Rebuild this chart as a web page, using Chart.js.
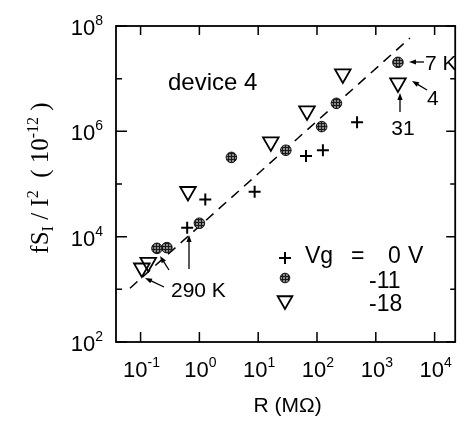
<!DOCTYPE html>
<html>
<head>
<meta charset="utf-8">
<script src="https://cdn.jsdelivr.net/npm/chart.js@4.4.1/dist/chart.umd.min.js"></script>
<style>
  html, body { margin: 0; padding: 0; background: #fff; }
  canvas { display: block; }
</style>
</head>
<body>
<canvas id="chart" width="466" height="421"></canvas>
<script>
// R (MOhm) vs f*S_I/I^2 (1e-12)
const vg0R = [0.62, 1.26, 8.7, 65, 126, 480];
const vg0Noise = [14800, 51000, 71000, 340000, 437000, 1.48e6];
const vg11R = [0.19, 0.28, 1.0, 3.5, 29.5, 120, 214, 2380];
const vg11Noise = [6000, 6200, 18000, 320000, 437000, 1.23e6, 3.4e6, 2.04e7];
const vg18R = [0.105, 0.135, 0.64, 16.4, 67.6, 275, 2380];
const vg18Noise = [2540, 3240, 72000, 630000, 2.45e6, 1.23e7, 8.3e6];
const fitR = [0.066, 3800];
const fitNoise = [1050, 5.9e7];

const xTickExps = [-1, 0, 1, 2, 3, 4];
const yTickExps = [2, 4, 6, 8];
const yMinorExps = [3, 5, 7];
const legendLabels = ['0', '-11', '-18'];

const SANS = '"Liberation Sans", Arial, sans-serif';
const SERIF = '"Liberation Serif", "Times New Roman", serif';

function toPoints(xs, ys) {
    return xs.map((x, i) => ({ x: x, y: ys[i] }));
}

// dark gray cross-hatched fill for the Vg = -11 dots
function hatchPattern() {
    const c = document.createElement('canvas');
    c.width = 3; c.height = 3;
    const g = c.getContext('2d');
    g.fillStyle = '#8a8a8a';
    g.fillRect(0, 0, 3, 3);
    g.fillStyle = '#1a1a1a';
    g.fillRect(0, 0, 3, 1);
    g.fillRect(0, 0, 1, 3);
    return g.createPattern(c, 'repeat');
}

function drawPow(ctx, exp, x, baseline, align, big, small, lift) {
    ctx.font = big + 'px ' + SANS;
    const w1 = ctx.measureText('10').width;
    ctx.font = small + 'px ' + SANS;
    const w2 = ctx.measureText(String(exp)).width;
    const total = w1 + w2;
    let left = x;
    if (align === 'center') left = x - total / 2;
    if (align === 'right') left = x - total;
    ctx.textAlign = 'left';
    ctx.textBaseline = 'alphabetic';
    ctx.font = big + 'px ' + SANS;
    ctx.fillText('10', left, baseline);
    ctx.font = small + 'px ' + SANS;
    ctx.fillText(String(exp), left + w1, baseline - lift);
}

function arrow(ctx, x1, y1, x2, y2) {
    const a = Math.atan2(y2 - y1, x2 - x1);
    const len = 7, half = 2.6;
    ctx.beginPath();
    ctx.moveTo(x1, y1);
    ctx.lineTo(x2 - Math.cos(a) * len * 0.8, y2 - Math.sin(a) * len * 0.8);
    ctx.stroke();
    ctx.beginPath();
    ctx.moveTo(x2, y2);
    ctx.lineTo(x2 - Math.cos(a) * len - Math.sin(a) * half, y2 - Math.sin(a) * len + Math.cos(a) * half);
    ctx.lineTo(x2 - Math.cos(a) * len + Math.sin(a) * half, y2 - Math.sin(a) * len - Math.cos(a) * half);
    ctx.closePath();
    ctx.fill();
}

const frameAndText = {
    id: 'frameAndText',
    beforeDatasetsDraw(chart) {
        const { ctx, chartArea: a, scales: { x, y } } = chart;
        ctx.save();
        ctx.strokeStyle = '#000';
        ctx.lineWidth = 1.8;
        ctx.strokeRect(a.left, a.top, a.right - a.left, a.bottom - a.top);

        ctx.lineWidth = 1.5;
        ctx.beginPath();
        xTickExps.forEach(e => {
            const px = x.getPixelForValue(Math.pow(10, e));
            ctx.moveTo(px, a.bottom); ctx.lineTo(px, a.bottom - 10);
            ctx.moveTo(px, a.top); ctx.lineTo(px, a.top + 9);
        });
        yTickExps.forEach(e => {
            const py = y.getPixelForValue(Math.pow(10, e));
            ctx.moveTo(a.left, py); ctx.lineTo(a.left + 11, py);
            ctx.moveTo(a.right, py); ctx.lineTo(a.right - 9, py);
        });
        yMinorExps.forEach(e => {
            const py = y.getPixelForValue(Math.pow(10, e));
            ctx.moveTo(a.left, py); ctx.lineTo(a.left + 6, py);
            ctx.moveTo(a.right, py); ctx.lineTo(a.right - 5, py);
        });
        ctx.stroke();
        ctx.restore();
    },
    afterDraw(chart) {
        const { ctx, chartArea: a, scales: { x, y } } = chart;
        ctx.save();
        ctx.fillStyle = '#000';
        ctx.strokeStyle = '#000';

        // tick labels
        xTickExps.forEach(e => {
            const px = x.getPixelForValue(Math.pow(10, e));
            drawPow(ctx, e, px + 1, a.bottom + 35, 'center', 22, 14, 10);
        });
        yTickExps.forEach(e => {
            const py = y.getPixelForValue(Math.pow(10, e));
            drawPow(ctx, e, a.left - 13, py + 9, 'right', 22, 14, 10);
        });

        // axis titles
        ctx.textAlign = 'center';
        ctx.textBaseline = 'alphabetic';
        ctx.font = '21px ' + SANS;
        ctx.fillText('R (M\u03A9)', (a.left + a.right) / 2 + 2, 412);

        const parts = [
            ['fS', 25, 0], ['I', 16, -5], [' / I', 25, 0], ['2', 16, 10],
            ['  ( 10', 25, 0], ['-12', 16, 10], [' )', 25, 0]
        ];
        ctx.save();
        ctx.translate(48, 178);
        ctx.rotate(-Math.PI / 2);
        let total = 0;
        parts.forEach(p => { ctx.font = p[1] + 'px ' + SERIF; total += ctx.measureText(p[0]).width; });
        let cx = -total / 2;
        ctx.textAlign = 'left';
        parts.forEach(p => {
            ctx.font = p[1] + 'px ' + SERIF;
            ctx.fillText(p[0], cx, -p[2]);
            cx += ctx.measureText(p[0]).width;
        });
        ctx.restore();

        // in-plot text
        ctx.textAlign = 'left';
        ctx.font = '24px ' + SANS;
        ctx.fillText('device 4', 168, 90);

        // legend
        const h = Chart.helpers;
        ctx.lineWidth = 2;
        h.drawPoint(ctx, { pointStyle: 'cross', radius: 6, borderWidth: 2 }, 285, 258);
        ctx.fillStyle = hatchPattern();
        ctx.strokeStyle = '#111';
        ctx.lineWidth = 1;
        h.drawPoint(ctx, { pointStyle: 'circle', radius: 4.8, borderWidth: 1 }, 285, 278);
        ctx.fillStyle = '#fff';
        ctx.strokeStyle = '#000';
        ctx.lineWidth = 1.8;
        h.drawPoint(ctx, { pointStyle: 'triangle', radius: 8.5, rotation: 180, borderWidth: 1.8 }, 285, 300.5);

        ctx.fillStyle = '#000';
        ctx.font = '23px ' + SANS;
        ctx.fillText('Vg', 305, 263);
        ctx.fillText('=', 351, 263);
        ctx.fillText(legendLabels[0], 388, 263);
        ctx.fillText('V', 408, 263);
        ctx.fillText(legendLabels[1], 369, 288);
        ctx.fillText(legendLabels[2], 369, 311);

        // annotations
        ctx.lineWidth = 1.3;
        ctx.font = '21px ' + SANS;
        arrow(ctx, 424, 62, 409, 62);
        ctx.fillText('7 K', 425, 70);
        arrow(ctx, 427, 90, 412, 81);
        ctx.fillText('4', 427, 105);
        arrow(ctx, 400, 112, 400, 93);
        ctx.textAlign = 'center';
        ctx.fillText('31', 403, 135);
        ctx.textAlign = 'left';
        ctx.fillText('290 K', 171, 297);
        arrow(ctx, 169, 270, 160, 256);
        arrow(ctx, 164, 287, 145, 278);
        arrow(ctx, 189, 269, 189, 235);
        ctx.restore();
    }
};

new Chart(document.getElementById('chart'), {
    type: 'scatter',
    data: {
        datasets: [
            {
                label: 'Vg = 0 V',
                data: toPoints(vg0R, vg0Noise),
                pointStyle: 'cross',
                pointRadius: 6,
                borderColor: '#000',
                borderWidth: 2,
                order: 1
            },
            {
                label: 'Vg = -11 V',
                data: toPoints(vg11R, vg11Noise),
                pointStyle: 'circle',
                pointRadius: 5.3,
                backgroundColor: hatchPattern(),
                borderColor: '#111',
                borderWidth: 1,
                order: 2
            },
            {
                label: 'Vg = -18 V',
                data: toPoints(vg18R, vg18Noise),
                pointStyle: 'triangle',
                rotation: 180,
                pointRadius: 9,
                backgroundColor: 'rgba(255,255,255,0)',
                borderColor: '#000',
                borderWidth: 1.8,
                order: 3
            },
            {
                label: 'fit',
                data: toPoints(fitR, fitNoise),
                showLine: true,
                pointRadius: 0,
                borderColor: '#000',
                borderWidth: 1.5,
                borderDash: [10, 7],
                order: 10
            }
        ]
    },
    options: {
        responsive: false,
        animation: false,
        devicePixelRatio: 1,
        layout: { padding: { left: 116, right: 5, top: 26, bottom: 79 } },
        plugins: { legend: { display: false }, tooltip: { enabled: false } },
        scales: {
            x: {
                type: 'logarithmic',
                display: false,
                min: 0.0382,
                max: 22390
            },
            y: {
                type: 'logarithmic',
                display: false,
                min: 100,
                max: 1e8
            }
        }
    },
    plugins: [frameAndText]
});
</script>
</body>
</html>
